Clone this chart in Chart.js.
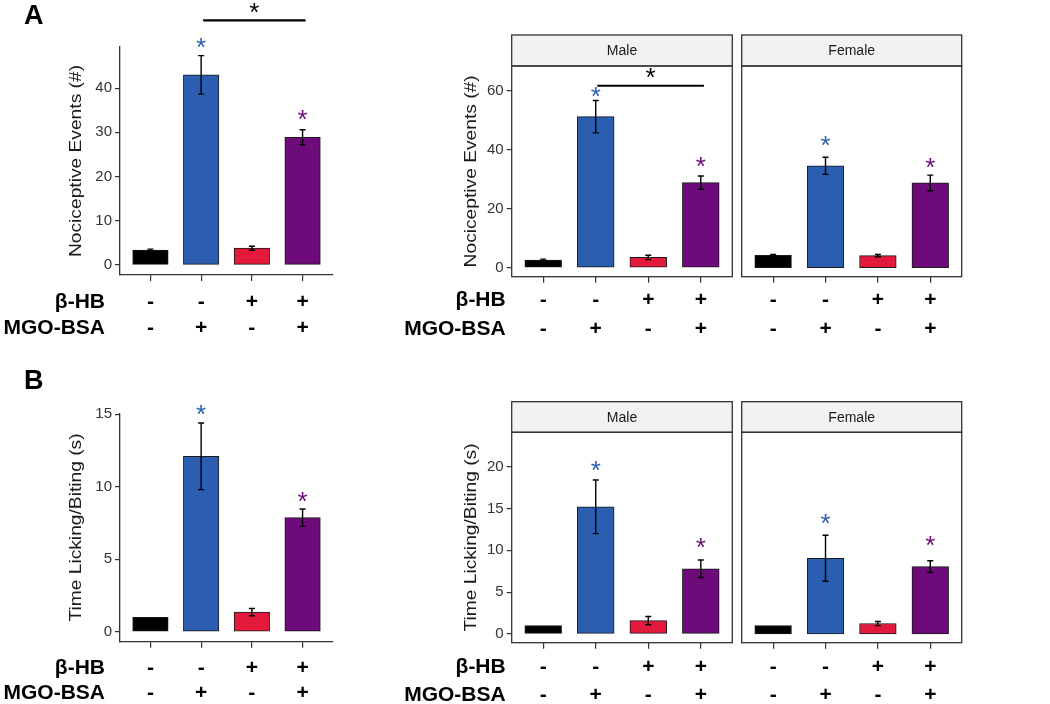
<!DOCTYPE html>
<html><head><meta charset="utf-8">
<script src="https://cdn.jsdelivr.net/npm/chart.js@4.4.1/dist/chart.umd.min.js"></script>
<style>
html,body{margin:0;padding:0;background:#fff;}
#wrap{position:relative;width:1050px;height:704px;overflow:hidden;background:#fff;}
#wrap canvas{position:absolute;left:0;top:0;}
</style></head><body><div id="wrap">
<canvas id="c1" width="1050" height="704"></canvas>
<canvas id="c2" width="1050" height="704"></canvas>
<canvas id="c3" width="1050" height="704"></canvas>
<canvas id="c4" width="1050" height="704"></canvas>
<canvas id="c5" width="1050" height="704"></canvas>
<canvas id="c6" width="1050" height="704"></canvas>
</div>
<script>
// ---------------- data ----------------
const groups = ['Vehicle', 'MGO-BSA', 'β-HB', 'β-HB + MGO-BSA'];
const bhbRow = ['-', '-', '+', '+'];
const mgoRow = ['-', '+', '-', '+'];
const rowTitles = ['β-HB', 'MGO-BSA'];
const sexLabels = ['Male', 'Female'];
const panelLetters = ['A', 'B'];
const eventsTitle = 'Nociceptive Events (#)';
const lickTitle = 'Time Licking/Biting (s)';

const eventsAll = [3.4, 43.0, 3.8, 28.9];
const eventsAllSem = [0.2, 4.35, 0.45, 1.7];
const eventsMale = [2.6, 51.3, 3.5, 28.9];
const eventsMaleSem = [0.3, 5.5, 0.75, 2.25];
const eventsFemale = [4.2, 34.6, 4.1, 28.8];
const eventsFemaleSem = [0.3, 2.9, 0.4, 2.65];

const lickAll = [1.0, 12.1, 1.35, 7.87];
const lickAllSem = [0.0, 2.3, 0.25, 0.6];
const lickMale = [1.0, 15.2, 1.6, 7.8];
const lickMaleSem = [0.0, 3.2, 0.5, 1.05];
const lickFemale = [1.0, 9.05, 1.25, 8.05];
const lickFemaleSem = [0.0, 2.75, 0.25, 0.7];

// significance asterisk heights (axis units), null = none
const starsEventsAll = [null, 50.2, null, 33.9];
const starsEventsMale = [null, 59.8, null, 36.0];
const starsEventsFemale = [null, 43.0, null, 35.4];
const starsLickAll = [null, 15.3, null, 9.3];
const starsLickMale = [null, 20.1, null, 10.9];
const starsLickFemale = [null, 13.8, null, 11.1];

// comparison brackets: [from group, to group, line height, star height]
const bracketEventsAll = [2.04, 4.06, 55.3, 58.2];
const bracketEventsMale = [2.03, 4.06, 61.8, 66.0];

const eventsTicks = [0, 10, 20, 30, 40];
const eventsSexTicks = [0, 20, 40, 60];
const lickTicks = [0, 5, 10, 15];
const lickSexTicks = [0, 5, 10, 15, 20];

// ---------------- style ----------------
const FONT = "'Liberation Sans', Arial, Helvetica, sans-serif";
const barColors = ['#000000', '#2B5DB0', '#E31A3C', '#6E0B7B'];
const AXIS = '#333333';

const figurePlugin = {
  id: 'figure',
  afterDraw(chart, args, o) {
    const ctx = chart.ctx, xs = chart.scales.x, ys = chart.scales.y, a = chart.chartArea;
    ctx.save();
    if (o.strip) {
      ctx.fillStyle = '#F2F2F2';
      ctx.fillRect(a.left, o.stripTop, a.right - a.left, a.top - o.stripTop);
      ctx.strokeStyle = AXIS; ctx.lineWidth = 1.3;
      ctx.strokeRect(a.left, o.stripTop, a.right - a.left, a.top - o.stripTop);
      ctx.strokeRect(a.left, a.top, a.right - a.left, a.bottom - a.top);
      ctx.fillStyle = '#1A1A1A';
      ctx.font = '14px ' + FONT;
      ctx.textAlign = 'center'; ctx.textBaseline = 'middle';
      ctx.fillText(o.strip, (a.left + a.right) / 2, (o.stripTop + a.top) / 2 + 1);
    }
    ctx.strokeStyle = '#000'; ctx.lineWidth = 1.4;
    o.values.forEach((v, i) => {
      const e = o.errs[i];
      if (!e) return;
      const x = xs.getPixelForValue(i + 1);
      const y1 = ys.getPixelForValue(v + e), y2 = ys.getPixelForValue(v - e);
      ctx.beginPath();
      ctx.moveTo(x, y1); ctx.lineTo(x, y2);
      ctx.moveTo(x - 3, y1); ctx.lineTo(x + 3, y1);
      ctx.moveTo(x - 3, y2); ctx.lineTo(x + 3, y2);
      ctx.stroke();
    });
    ctx.font = '26px ' + FONT;
    ctx.textAlign = 'center'; ctx.textBaseline = 'alphabetic';
    const m = ctx.measureText('*');
    const off = (m.actualBoundingBoxAscent - m.actualBoundingBoxDescent) / 2;
    const star = (x, y, c) => { ctx.fillStyle = c; ctx.fillText('*', x, y + off); };
    o.stars.forEach((s, i) => {
      if (s == null) return;
      star(xs.getPixelForValue(i + 1), ys.getPixelForValue(s), barColors[i]);
    });
    if (o.bracket) {
      const [f, t, ly, sy] = o.bracket;
      ctx.strokeStyle = '#000'; ctx.lineWidth = 2.2;
      ctx.beginPath();
      ctx.moveTo(xs.getPixelForValue(f), ys.getPixelForValue(ly));
      ctx.lineTo(xs.getPixelForValue(t), ys.getPixelForValue(ly));
      ctx.stroke();
      star(xs.getPixelForValue((f + t) / 2), ys.getPixelForValue(sy), '#000');
    }
    if (o.yTitle) {
      ctx.save();
      ctx.translate(o.titleX, (a.top + a.bottom) / 2);
      ctx.rotate(-Math.PI / 2);
      ctx.scale(1.2, 1);
      ctx.fillStyle = '#1A1A1A';
      ctx.font = '16px ' + FONT;
      ctx.textAlign = 'center'; ctx.textBaseline = 'middle';
      ctx.fillText(o.yTitle, 0, 0);
      ctx.restore();
    }
    if (o.rowTitleX) {
      ctx.fillStyle = '#000';
      ctx.font = 'bold 21px ' + FONT;
      ctx.textAlign = 'right'; ctx.textBaseline = 'middle';
      const y0 = a.bottom + 6 + o.rowPad + o.rowLH / 2;
      rowTitles.forEach((t, i) => ctx.fillText(t, o.rowTitleX, y0 + i * o.rowLH));
    }
    if (o.letter) {
      ctx.fillStyle = '#000';
      ctx.font = 'bold 27px ' + FONT;
      ctx.textAlign = 'left'; ctx.textBaseline = 'alphabetic';
      ctx.fillText(o.letter, 24, o.letterBase);
    }
    ctx.restore();
  }
};

function build(id, g, values, errs, stars, yTicks, extra) {
  const unit = (g.R - g.L) / 4.2;
  const yW = g.showY ? 45 : 0;
  const xH = 80;
  const classic = !extra.strip;
  new Chart(document.getElementById(id), {
    type: 'bar',
    data: {
      datasets: [{
        data: values.map((v, i) => ({ x: i + 1, y: v })),
        backgroundColor: barColors,
        borderColor: '#1A1A1A',
        borderWidth: 1,
        borderSkipped: false,
        barThickness: unit * 0.7
      }]
    },
    options: {
      responsive: false, maintainAspectRatio: false, animation: false, devicePixelRatio: 1,
      layout: { padding: { left: g.L - yW, right: 1050 - g.R, top: g.T, bottom: 704 - g.B - xH } },
      plugins: {
        legend: { display: false }, tooltip: { enabled: false }, title: { display: false },
        figure: Object.assign({ values, errs, stars, rowPad: g.rowPad, rowLH: g.rowLH }, extra)
      },
      scales: {
        x: {
          type: 'linear', min: 0.4, max: 4.6, offset: false,
          afterBuildTicks: s => { s.ticks = groups.map((_, i) => ({ value: i + 1 })); },
          afterFit: s => { s.height = xH; },
          ticks: {
            callback: v => [bhbRow[v - 1], mgoRow[v - 1]],
            font: { family: FONT, size: 21, weight: 'bold', lineHeight: g.rowLH + 'px' },
            color: '#000', padding: g.rowPad, maxRotation: 0, autoSkip: false
          },
          grid: { display: true, offset: false, drawOnChartArea: false, drawTicks: true, tickLength: 6, color: AXIS, lineWidth: 1.2 },
          border: { display: classic, color: AXIS, width: 1.3 }
        },
        y: {
          type: 'linear', display: g.showY, min: g.yMin, max: g.yMax,
          afterBuildTicks: s => { s.ticks = yTicks.map(v => ({ value: v })); },
          afterFit: s => { s.width = yW; },
          ticks: { font: { family: FONT, size: 15 }, color: '#333333', padding: 3 },
          grid: { display: true, offset: false, drawOnChartArea: false, drawTicks: true, tickLength: 5, color: AXIS, lineWidth: 1.2 },
          border: { display: classic, color: AXIS, width: 1.3 }
        }
      }
    },
    plugins: [figurePlugin]
  });
}

build('c1', { L: 120, R: 333, T: 47, B: 275, yMin: -2.26, yMax: 49.3, showY: true, rowPad: 8, rowLH: 26 },
  eventsAll, eventsAllSem, starsEventsAll, eventsTicks,
  { bracket: bracketEventsAll, yTitle: eventsTitle, titleX: 77, rowTitleX: 105, letter: panelLetters[0], letterBase: 24 });
build('c2', { L: 511.7, R: 732.3, T: 66, B: 276.7, yMin: -3.06, yMax: 68.5, showY: true, rowPad: 2.6, rowLH: 29.3 },
  eventsMale, eventsMaleSem, starsEventsMale, eventsSexTicks,
  { bracket: bracketEventsMale, yTitle: eventsTitle, titleX: 471.7, rowTitleX: 505.7, strip: sexLabels[0], stripTop: 35 });
build('c3', { L: 741.7, R: 961.7, T: 66, B: 276.7, yMin: -3.06, yMax: 68.5, showY: false, rowPad: 2.6, rowLH: 29.3 },
  eventsFemale, eventsFemaleSem, starsEventsFemale, eventsSexTicks,
  { strip: sexLabels[1], stripTop: 35 });
build('c4', { L: 120, R: 333, T: 413.3, B: 641.7, yMin: -0.69, yMax: 15.07, showY: true, rowPad: 8, rowLH: 25 },
  lickAll, lickAllSem, starsLickAll, lickTicks,
  { yTitle: lickTitle, titleX: 77, rowTitleX: 105, letter: panelLetters[1], letterBase: 389 });
build('c5', { L: 511.7, R: 732.3, T: 432.3, B: 642.7, yMin: -1.04, yMax: 24.11, showY: true, rowPad: 4.7, rowLH: 27.7 },
  lickMale, lickMaleSem, starsLickMale, lickSexTicks,
  { yTitle: lickTitle, titleX: 471.7, rowTitleX: 505.7, strip: sexLabels[0], stripTop: 401.7 });
build('c6', { L: 741.7, R: 961.7, T: 432.3, B: 642.7, yMin: -1.04, yMax: 24.11, showY: false, rowPad: 4.7, rowLH: 27.7 },
  lickFemale, lickFemaleSem, starsLickFemale, lickSexTicks,
  { strip: sexLabels[1], stripTop: 401.7 });
</script>
</body></html>
